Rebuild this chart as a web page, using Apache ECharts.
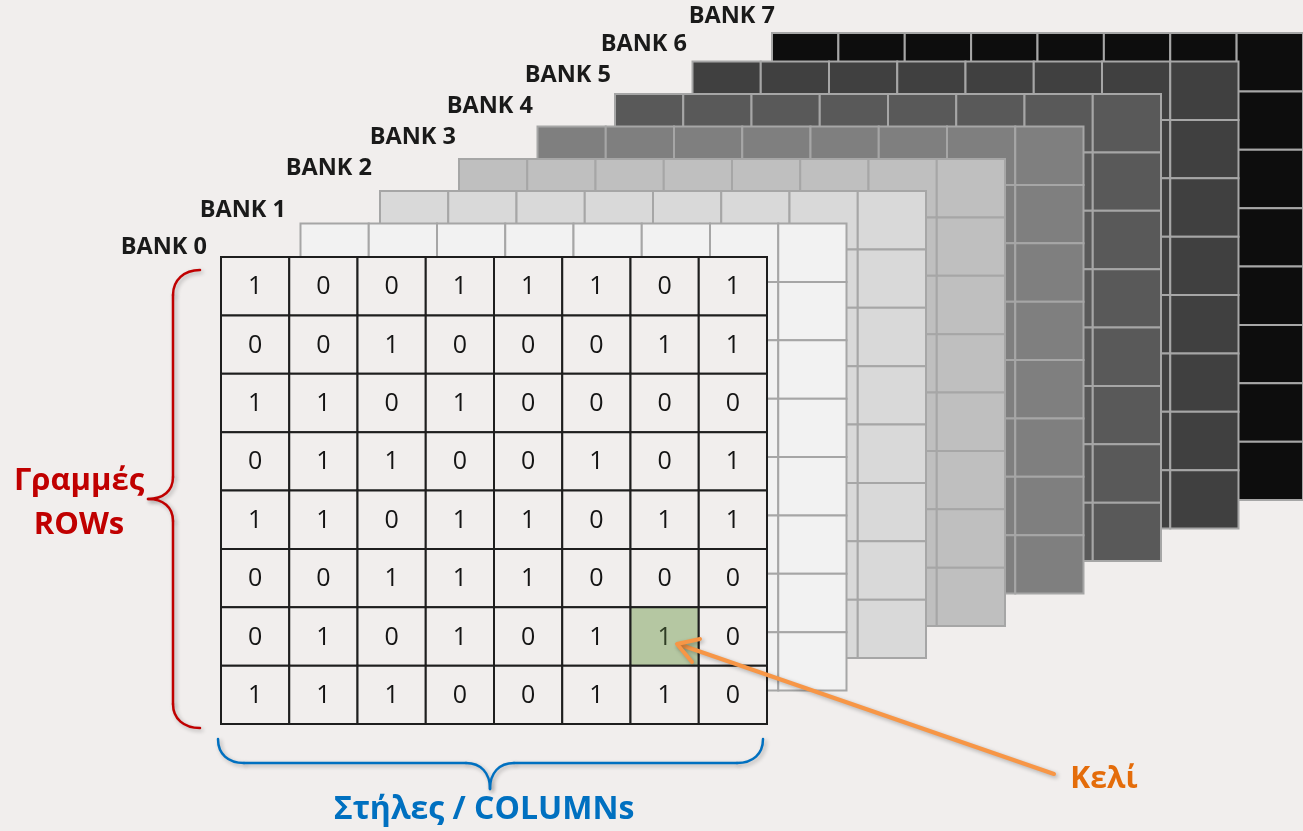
<!DOCTYPE html>
<html>
<head>
<meta charset="utf-8">
<script src="https://cdn.jsdelivr.net/npm/echarts@6/dist/echarts.min.js"></script>
<style>
html,body{margin:0;padding:0;background:#f1eeed;}
#chart{width:1303px;height:831px;}
</style>
</head>
<body>
<div id="chart"></div>
<script>
// ---------- DATA ----------
var columns = ['C0','C1','C2','C3','C4','C5','C6','C7'];
var rows = ['R0','R1','R2','R3','R4','R5','R6','R7'];
var bankLabels = ['BANK 0','BANK 1','BANK 2','BANK 3','BANK 4','BANK 5','BANK 6','BANK 7'];
var bank0Bits = [
  [1,0,0,1,1,1,0,1],
  [0,0,1,0,0,0,1,1],
  [1,1,0,1,0,0,0,0],
  [0,1,1,0,0,1,0,1],
  [1,1,0,1,1,0,1,1],
  [0,0,1,1,1,0,0,0],
  [0,1,0,1,0,1,1,0],
  [1,1,1,0,0,1,1,0]
];
var selectedCell = [6, 6]; // [column, row] of the highlighted cell
var rowsTitle = ['Γραμμές', 'ROWs'];
var columnsTitle = 'Στήλες / COLUMNs';
var cellTitle = 'Κελί';

// ---------- LAYOUT / STYLE ----------
var BG = '#f1eeed';
var bankFills = [BG,'#f2f2f2','#d9d9d9','#bfbfbf','#7f7f7f','#595959','#404040','#0d0d0d'];
var bankLeft = [221, 300.5, 380, 459, 537.5, 615, 692.5, 772];
var bankTop  = [257, 223.5, 191, 159, 126.5, 94, 61.5, 33];
var bankW = 546, bankH = 467;
var labelRight = [207, 286, 372, 456, 533, 611, 687, 775];
var labelMidY  = [247, 210, 168, 137, 106, 75, 44, 16];

var chart = echarts.init(document.getElementById('chart'), null, {renderer:'canvas'});

var grids = [], xAxes = [], yAxes = [], series = [];
for (var b = 7; b >= 0; b--) {
  var gi = grids.length;
  grids.push({left: bankLeft[b], top: bankTop[b], width: bankW, height: bankH, containLabel: false});
  xAxes.push({type:'category', data: columns, gridIndex: gi, show: false});
  yAxes.push({type:'category', data: rows, gridIndex: gi, inverse: true, show: false});
  var data = [];
  for (var r = 0; r < rows.length; r++) {
    for (var c = 0; c < columns.length; c++) {
      data.push(b === 0 ? [c, r, bank0Bits[r][c]] : [c, r]);
    }
  }
  series.push({
    type: 'custom',
    name: bankLabels[b],
    xAxisIndex: gi,
    yAxisIndex: gi,
    z: 2 + (7 - b),
    silent: true,
    animation: false,
    data: data,
    renderItem: (function (bank) {
      return function (params, api) {
        var cx = api.value(0), cy = api.value(1);
        var p = api.coord([cx, cy]);
        var s = api.size([1, 1]);
        var sel = (bank === 0 && cx === selectedCell[0] && cy === selectedCell[1]);
        var children = [{
          type: 'rect',
          shape: {x: p[0] - s[0] / 2, y: p[1] - s[1] / 2, width: s[0], height: s[1]},
          style: {fill: sel ? '#b5c7a2' : bankFills[bank], stroke: bank === 0 ? '#1e1e1e' : '#a6a6a6', lineWidth: 2}
        }];
        if (bank === 0) {
          children.push({
            type: 'text',
            style: {
              text: String(api.value(2)), x: p[0], y: p[1] + 1,
              align: 'center', verticalAlign: 'middle',
              fontFamily: 'Open Sans', fontSize: 25,
              fill: sel ? '#2f3d24' : '#141414'
            }
          });
        }
        return {type: 'group', children: children};
      };
    })(b)
  });
}

var graphics = [];
for (var i = 0; i < 8; i++) {
  graphics.push({
    type: 'text', z: 100,
    style: {text: bankLabels[i], x: labelRight[i], y: labelMidY[i], align: 'right', verticalAlign: 'middle',
            fontFamily: 'Open Sans', fontWeight: 'bold', fontSize: 23.5, fill: '#1a1a1a'}
  });
}

function strokeStyle(color, w) {
  return {fill: null, stroke: color, lineWidth: w, lineCap: 'round', lineJoin: 'round',
          shadowBlur: 4, shadowOffsetX: 2, shadowOffsetY: 2, shadowColor: 'rgba(0,0,0,0.28)'};
}
// segments: ['L', x1,y1,x2,y2] or ['C', x1,y1, c1x,c1y, c2x,c2y, x2,y2]
function shapeGroup(segs, color, w) {
  var ch = segs.map(function (s) {
    if (s[0] === 'L') {
      return {type: 'line', shape: {x1: s[1], y1: s[2], x2: s[3], y2: s[4]}, style: strokeStyle(color, w)};
    }
    return {type: 'bezierCurve',
            shape: {x1: s[1], y1: s[2], cpx1: s[3], cpy1: s[4], cpx2: s[5], cpy2: s[6], x2: s[7], y2: s[8]},
            style: strokeStyle(color, w)};
  });
  return {type: 'group', z: 100, children: ch};
}
// red brace (rows)
graphics.push(shapeGroup([
  ['C', 200,270, 184,270, 173,280, 173,295],
  ['L', 173,295, 173,477],
  ['C', 173,477, 173,491, 163,499, 148,499],
  ['C', 148,499, 163,499, 173,507, 173,521],
  ['L', 173,521, 173,704],
  ['C', 173,704, 173,719, 184,728, 200,728]
], '#c00000', 2.5));
// blue brace (columns)
graphics.push(shapeGroup([
  ['C', 218,739, 218,754, 228,763, 244,763],
  ['L', 244,763, 466,763],
  ['C', 466,763, 481,763, 490,773, 490,789],
  ['C', 490,789, 490,773, 499,763, 514,763],
  ['L', 514,763, 737,763],
  ['C', 737,763, 753,763, 763,754, 763,739]
], '#0070c0', 2.5));
// orange arrow (cell)
graphics.push({
  type: 'polyline', z: 100,
  shape: {points: [[1054,774],[678,644]]},
  style: strokeStyle('#f79646', 4)
});
graphics.push({
  type: 'polyline', z: 100,
  shape: {points: [[692,662],[677,644],[700,639]]},
  style: strokeStyle('#f79646', 4)
});
graphics.push({
  type: 'text', z: 100,
  style: {text: rowsTitle[0], x: 79, y: 481, align: 'center', verticalAlign: 'middle',
          fontFamily: 'Open Sans', fontWeight: 'bold', fontSize: 31, fill: '#c00000'}
});
graphics.push({
  type: 'text', z: 100,
  style: {text: rowsTitle[1], x: 79, y: 525, align: 'center', verticalAlign: 'middle',
          fontFamily: 'Open Sans', fontWeight: 'bold', fontSize: 31, fill: '#c00000'}
});
graphics.push({
  type: 'text', z: 100,
  style: {text: columnsTitle, x: 484, y: 810, align: 'center', verticalAlign: 'middle',
          fontFamily: 'Open Sans', fontWeight: 'bold', fontSize: 32, fill: '#0070c0'}
});
graphics.push({
  type: 'text', z: 100,
  style: {text: cellTitle, x: 1104, y: 779, align: 'center', verticalAlign: 'middle',
          fontFamily: 'Open Sans', fontWeight: 'bold', fontSize: 30, fill: '#e46c0a'}
});

chart.setOption({
  backgroundColor: BG,
  animation: false,
  grid: grids,
  xAxis: xAxes,
  yAxis: yAxes,
  series: series,
  graphic: graphics
});
</script>
</body>
</html>
